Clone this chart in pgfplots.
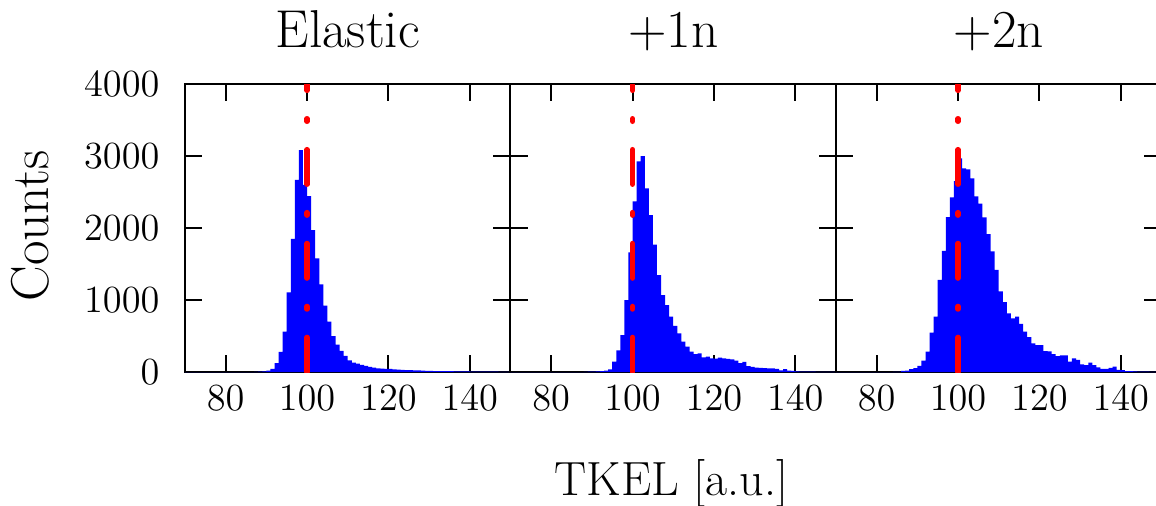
\documentclass[border=0pt]{standalone}
\usepackage{pgfplots}
\usepackage{pgfplotstable}
\pgfplotsset{compat=1.18}
\pgfplotstableread{
x a b c
70 0 0 0
71 0 0 0
72 0 0 0
73 0 0 0
74 0 0 0
75 0 0 0
76 0 0 0
77 0 0 0
78 0 0 0
79 0 0 0
80 0 0 0
81 0 0 0
82 0 0 0
83 0 0 0
84 0 0 1
85 0 0 3
86 0 0 15
87 2 0 18
88 4 2 40
89 8 4 55
90 20 5 85
91 45 8 157
92 125 12 282
93 280 20 546
94 560 37 768
95 1105 145 1278
96 1850 300 1681
97 2670 514 2150
98 3083 1000 2425
99 2600 1660 2650
100 2444 2370 2968
101 1972 2925 2829
102 1579 3000 2815
103 1218 2551 2690
104 921 2180 2440
105 699 1770 2338
106 500 1347 2148
107 380 1069 1915
108 295 930 1676
109 225 768 1420
110 160 640 1120
111 132 537 970
112 115 421 815
113 100 352 745
114 85 282 768
115 70 250 670
116 62 259 560
117 52 204 485
118 48 213 398
119 45 190 375
120 42 185 375
121 38 199 290
122 32 190 285
123 29 181 250
124 27 176 222
125 25 157 231
126 23 125 231
127 21 140 143
128 19 80 190
129 16 72 167
130 15 62 106
131 14 58 97
132 13 55 130
133 12 52 97
134 12 50 65
135 11 45 42
136 10 22 42
137 9 40 56
138 8 20 74
139 8 15 28
140 7 10 25
141 6 6 14
142 6 5 14
143 5 4 10
144 5 4 5
145 4 3 4
146 4 3 4
147 3 2 3
148 3 2 3
149 2 2 2
150 2 2 2
}\histdata

\begin{document}
\begin{tikzpicture}
\pgfplotsset{
 panel/.style={
  width=122.06pt, height=108pt, scale only axis,
  xmin=70, xmax=150, ymin=0, ymax=4000,
  xtick={80,100,120,140}, ytick={0,1000,2000,3000,4000},
  axis line style={line width=0.75pt},
  major tick style={line width=0.75pt, black},
  major tick length=6.4pt, tick align=inside,
  scaled y ticks=false,
  /pgf/number format/1000 sep={},
  ticklabel style={font=\fontsize{14}{14}\selectfont},
  xticklabel style={anchor=base, inner sep=0pt, yshift=-14.4pt},
  yticklabel style={anchor=east, inner sep=0pt, xshift=-9.4pt},
  title style={font=\fontsize{20}{20}\selectfont, at={(axis description cs:0.5,1.072)}, anchor=base},
 },
 hist/.style={const plot, fill=blue, draw=none},
 refline/.style={red, line width=2pt, line cap=round, dash pattern=on 13pt off 10.6pt on 1pt off 10.6pt},
}
\begin{axis}[panel, at={(0pt,0pt)}, anchor=south west, title={Elastic},
  ylabel={Counts},
  ylabel style={at={(axis description cs:-0.476,0.507)}, anchor=center, font=\fontsize{20}{20}\selectfont}]
 \addplot[hist] table[x=x,y=a]{\histdata} \closedcycle;
 \addplot[refline] coordinates {(100,0) (100,4000)};
\end{axis}
\begin{axis}[panel, at={(122.06pt,0pt)}, anchor=south west, title={+1n}, yticklabels={},
  xlabel={TKEL [a.u.]},
  xlabel style={at={(axis description cs:0.495,-0.43)}, anchor=base, font=\fontsize{18}{18}\selectfont}]
 \addplot[hist] table[x=x,y=b]{\histdata} \closedcycle;
 \addplot[refline] coordinates {(100,0) (100,4000)};
\end{axis}
\begin{axis}[panel, at={(244.12pt,0pt)}, anchor=south west, title={+2n}, yticklabels={}]
 \addplot[hist] table[x=x,y=c]{\histdata} \closedcycle;
 \addplot[refline] coordinates {(100,0) (100,4000)};
\end{axis}
\pgfresetboundingbox
\useasboundingbox (-69.375pt,-49.875pt) rectangle (364.125pt,139.5pt);
\end{tikzpicture}
\end{document}
